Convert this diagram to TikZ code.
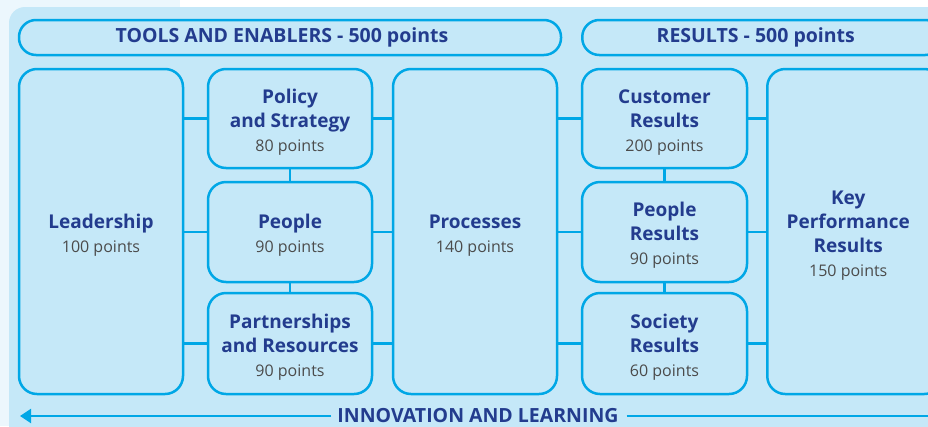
\documentclass[tikz,border=0pt]{standalone}
\usepackage{fontspec}
\setmainfont{Open Sans}
\usetikzlibrary{arrows.meta}
\definecolor{edge}{RGB}{0,167,230}
\definecolor{panel}{RGB}{197,232,248}
\definecolor{bgc}{RGB}{236,247,253}
\definecolor{ttl}{RGB}{35,60,142}
\definecolor{pts}{RGB}{75,75,75}
\newcommand{\tl}[1]{{\bfseries\color{ttl}#1}}
\newcommand{\pt}[1]{{\color{pts}\fontsize{16}{21}\selectfont #1}}
\newcommand{\bx}[1]{\raisebox{-4pt}[\height][\depth]{\begin{tabular}{@{}c@{}}#1\end{tabular}}}
\begin{document}
\begin{tikzpicture}[x=1pt,y=-1pt,
  box/.style={draw=edge, line width=2.5pt, rounded corners=18pt, fill=panel,
    align=center, inner sep=0pt, font=\fontsize{19}{24}\selectfont},
  hdr/.style={draw=edge, line width=2.5pt, rounded corners=17pt, fill=panel,
    inner sep=0pt, minimum height=35pt, font=\bfseries\fontsize{19.5}{22}\selectfont, text=ttl},
  conn/.style={draw=edge, line width=2.2pt}]
\useasboundingbox (0,0) rectangle (928,426);
\fill[bgc] (0,0) rectangle (928,426);
\fill[white] (180,0) rectangle (928,7);
\fill[panel, rounded corners=16pt] (9,7) rectangle (960,460);

\node[hdr, minimum width=542pt] (tools) at (290,37.5) {\hspace*{-16pt}TOOLS AND ENABLERS - 500 points};
\node[hdr, minimum width=360pt, anchor=west] (res) at (581,37.5) {\hspace*{-13pt}RESULTS - 500 points};

\node[box, minimum width=164pt, minimum height=325pt] (lead) at (101,231.5) {\bx{\tl{Leadership}\\\pt{100 points}}};
\node[box, minimum width=164pt, minimum height=99pt] (pol) at (290,118.5) {\bx{\tl{Policy}\\\tl{and Strategy}\\\pt{80 points}}};
\node[box, minimum width=164pt, minimum height=100pt] (peo) at (290,232) {\bx{\tl{People}\\\pt{90 points}}};
\node[box, minimum width=164pt, minimum height=101pt] (par) at (290,343.5) {\bx{\tl{Partnerships}\\\tl{and Resources}\\\pt{90 points}}};
\node[box, minimum width=164pt, minimum height=325pt] (proc) at (475,231.5) {\bx{\tl{Processes}\\\pt{140 points}}};

\node[box, minimum width=165pt, minimum height=99pt] (cust) at (664.5,118.5) {\bx{\tl{Customer}\\\tl{Results}\\\pt{200 points}}};
\node[box, minimum width=165pt, minimum height=100pt] (pres) at (664.5,232) {\bx{\tl{People}\\\tl{Results}\\\pt{90 points}}};
\node[box, minimum width=165pt, minimum height=101pt] (soc) at (664.5,343.5) {\bx{\tl{Society}\\\tl{Results}\\\pt{60 points}}};
\node[box, minimum width=175pt, minimum height=325pt, anchor=west] (kpr) at (766,231.5) {\hspace*{-13pt}\bx{\tl{Key}\\\tl{Performance}\\\tl{Results}\\\pt{150 points}}};

% connectors
\foreach \b in {pol,peo,par}{
  \draw[conn] (lead.east |- \b.west) -- (\b.west);
  \draw[conn] (\b.east) -- (proc.west |- \b.east);
}
\foreach \b in {cust,pres,soc}{
  \draw[conn] (proc.east |- \b.west) -- (\b.west);
  \draw[conn] (\b.east) -- (kpr.west |- \b.east);
}
\draw[conn] (pol.south) -- (peo.north);
\draw[conn] (peo.south) -- (par.north);
\draw[conn] (cust.south) -- (pres.north);
\draw[conn] (pres.south) -- (soc.north);

% innovation arrow
\node[font=\bfseries\fontsize{19.5}{22}\selectfont, text=ttl, inner sep=0pt] (inn) at (478,416) {INNOVATION AND LEARNING};
\coordinate (al) at (20,416);
\coordinate (ar) at (928,416);
\draw[conn, -{Triangle[length=11pt,width=14pt]}] ([xshift=-6pt]inn.west) -- (al);
\draw[conn] ([xshift=8pt]inn.east) -- (ar);
\end{tikzpicture}
\end{document}
